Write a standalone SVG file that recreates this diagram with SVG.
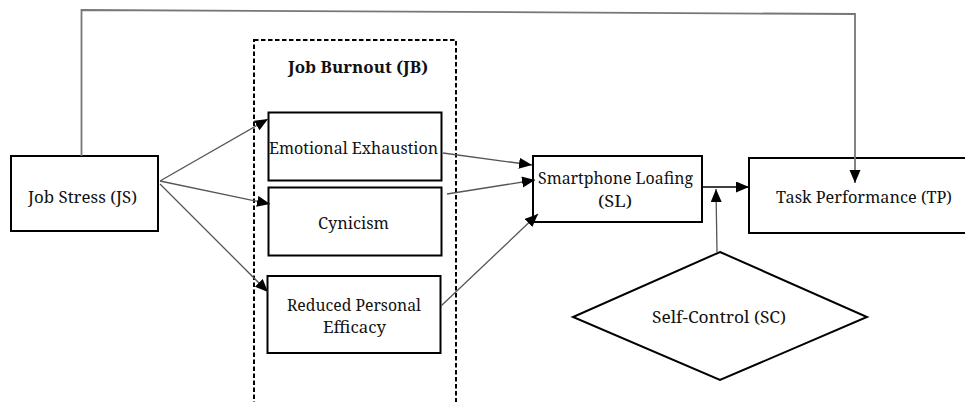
<svg xmlns="http://www.w3.org/2000/svg" width="965" height="402" viewBox="0 0 965 402">
<defs>
<style>
.box{fill:#fff;stroke:#000;stroke-width:2}
text{font-family:'Noto Serif','DejaVu Serif',serif;font-size:16.8px;fill:#111;text-anchor:middle}
.bold{font-weight:bold}
.sm{font-size:16px}
.con{fill:none;stroke:#555;stroke-width:1.3}
.top{fill:none;stroke:#777;stroke-width:1.8}
</style>
<marker id="ah" markerUnits="userSpaceOnUse" markerWidth="14" markerHeight="12" refX="13" refY="5.5" orient="auto">
<path d="M0,0 L13,5.5 L0,11 z" fill="#000"/>
</marker>
</defs>
<rect width="965" height="402" fill="#fff"/>
<g id="jb-group">
<rect x="254" y="40" width="202" height="380" fill="none" stroke="#000" stroke-width="2" stroke-dasharray="4.5,2.5"/>
<text class="bold" x="358" y="73" textLength="140" lengthAdjust="spacingAndGlyphs">Job Burnout (JB)</text>
</g>
<g id="js">
<rect class="box" x="11" y="156" width="147" height="75"/>
<text x="82.5" y="203" textLength="109" lengthAdjust="spacingAndGlyphs">Job Stress (JS)</text>
</g>
<g id="ee">
<rect class="box" x="268.5" y="112.5" width="173" height="68"/>
<text x="353.5" y="154" textLength="169" lengthAdjust="spacingAndGlyphs">Emotional Exhaustion</text>
</g>
<g id="cy">
<rect class="box" x="268.5" y="187.5" width="173" height="68"/>
<text x="353.5" y="229" textLength="71" lengthAdjust="spacingAndGlyphs">Cynicism</text>
</g>
<g id="rpe">
<rect class="box" x="267.5" y="276" width="173" height="77"/>
<text x="354" y="311" textLength="134" lengthAdjust="spacingAndGlyphs">Reduced Personal</text>
<text x="354.5" y="333" textLength="63" lengthAdjust="spacingAndGlyphs">Efficacy</text>
</g>
<g id="sl">
<rect class="box" x="533" y="156" width="169" height="66"/>
<text class="sm" x="615.5" y="184" textLength="155" lengthAdjust="spacingAndGlyphs">Smartphone Loafing</text>
<text class="sm" x="615" y="206.5" textLength="34" lengthAdjust="spacingAndGlyphs">(SL)</text>
</g>
<g id="tp">
<rect class="box" x="749" y="158" width="230" height="75"/>
<text x="864" y="203" textLength="176" lengthAdjust="spacingAndGlyphs">Task Performance (TP)</text>
</g>
<g id="sc">
<polygon class="box" points="720,252 867,317 720,380 573,317"/>
<text x="719" y="323" textLength="134" lengthAdjust="spacingAndGlyphs">Self-Control (SC)</text>
</g>
<g id="connectors">
<polyline class="top" points="81.5,156 81.5,10 855,14 855,171"/>
<path d="M855,170 L855,183" stroke="#777" stroke-width="1.8" marker-end="url(#ah)"/>
<line class="con" x1="160" y1="181" x2="268" y2="119" marker-end="url(#ah)"/>
<line class="con" x1="160" y1="181" x2="270" y2="204" marker-end="url(#ah)"/>
<line class="con" x1="160" y1="184" x2="268" y2="292" marker-end="url(#ah)"/>
<line class="con" x1="443" y1="153" x2="532" y2="165" marker-end="url(#ah)"/>
<line class="con" x1="447" y1="194" x2="535" y2="180" marker-end="url(#ah)"/>
<line class="con" x1="441" y1="306" x2="538" y2="214" marker-end="url(#ah)"/>
<line x1="702" y1="187" x2="749" y2="187" stroke="#000" stroke-width="1.5" marker-end="url(#ah)"/>
<line class="con" x1="717" y1="252" x2="716" y2="189" marker-end="url(#ah)"/>
</g>
</svg>
